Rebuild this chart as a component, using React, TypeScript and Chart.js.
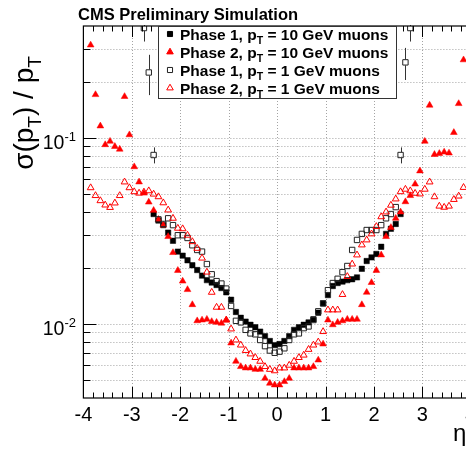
import React, { useEffect, useRef } from "react";
import { Chart, registerables } from "chart.js";
Chart.register(...registerables);

// ---------------- data ----------------
const etaBins = [
  -3.85, -3.75, -3.65, -3.55, -3.45, -3.35, -3.25, -3.15, -3.05, -2.95,
  -2.85, -2.75, -2.65, -2.55, -2.45, -2.35, -2.25, -2.15, -2.05, -1.95,
  -1.85, -1.75, -1.65, -1.55, -1.45, -1.35, -1.25, -1.15, -1.05, -0.95,
  -0.85, -0.75, -0.65, -0.55, -0.45, -0.35, -0.25, -0.15, -0.05,
  0.05, 0.15, 0.25, 0.35, 0.45, 0.55, 0.65, 0.75, 0.85, 0.95,
  1.05, 1.15, 1.25, 1.35, 1.45, 1.55, 1.65, 1.75, 1.85, 1.95,
  2.05, 2.15, 2.25, 2.35, 2.45, 2.55, 2.65, 2.75, 2.85, 2.95,
  3.05, 3.15, 3.25, 3.35, 3.45, 3.55, 3.65, 3.75, 3.85,
];

// Phase 1, pT = 10 GeV (filled black squares)
const phase1Pt10 = [
  null, null, null, null, null, null, null, null, null, null,
  null, null, null, 0.039, 0.036, 0.034, 0.031, 0.028, 0.0245, 0.0233,
  0.022, 0.0207, 0.0195, 0.0182, 0.0172, 0.0167, 0.0162, 0.0156, 0.0148, 0.0135,
  0.0116, 0.0108, 0.0103, 0.0099, 0.0096, 0.0091, 0.0086, 0.0081, 0.0077,
  0.0078, 0.0081, 0.0086, 0.0093, 0.0096, 0.0099, 0.0102, 0.0106, 0.0115, 0.0129,
  0.0143, 0.016, 0.0166, 0.0169, 0.0172, 0.0174, 0.0178, 0.0198, 0.0218, 0.0228,
  0.0238, 0.026, 0.0305, 0.0325, 0.0345, 0.039, null, null, null, null,
  null, null, null, null, null, null, null, null, null,
];

// Phase 2, pT = 10 GeV (filled red triangles)
const phase2Pt10 = [
  0.316, 0.171, 0.116, 0.092, 0.096, 0.09, 0.087, 0.167, 0.104, 0.07,
  0.058, 0.0505, 0.0452, 0.0408, 0.0365, 0.034, 0.0295, 0.0242, 0.0194, 0.017,
  0.0153, 0.0127, 0.0104, 0.0105, 0.0106, 0.0103, 0.0102, 0.0101, 0.0105, 0.0079,
  0.0063, 0.0059, 0.0058, 0.0058, 0.0057, 0.0057, 0.0051, 0.0048, 0.0047,
  0.0047, 0.0049, 0.0051, 0.0058, 0.0058, 0.0058, 0.0058, 0.0059, 0.0064, 0.0078,
  0.0105, 0.0099, 0.0102, 0.0104, 0.0106, 0.0106, 0.0106, 0.0127, 0.0148, 0.0167,
  0.0194, 0.0235, 0.0295, 0.033, 0.037, 0.04, 0.0454, 0.049, 0.0565, 0.0665,
  0.096, 0.15, 0.0815, 0.0825, 0.084, 0.083, 0.107, 0.153, 0.263,
];

// Phase 1, pT = 1 GeV (open black squares)
const phase1Pt1 = [
  null, null, null, null, null, null, null, null, null, null,
  null, 0.39, 0.225, 0.081, 0.0365, 0.0345, 0.037, 0.034, 0.03, 0.03,
  0.029, 0.0265, 0.025, 0.0245, 0.021, 0.0185, 0.017, 0.0165, 0.0155, 0.0125,
  0.0104, 0.0102, 0.0093, 0.0089, 0.0088, 0.0082, 0.0076, 0.0072, 0.007,
  0.0071, 0.0074, 0.0082, 0.0088, 0.0089, 0.0095, 0.0097, 0.0105, 0.0117, 0.0129,
  0.0152, 0.0166, 0.0175, 0.019, 0.0205, 0.025, 0.0283, 0.0305, 0.032, 0.032,
  0.032, 0.034, 0.037, 0.039, 0.0425, 0.081, 0.255, 0.39, null, null,
  null, null, null, null, null, null, null, null, null,
];
const phase1Pt1Err = [
  0, 0, 0, 0, 0, 0, 0, 0, 0, 0,
  0, 0.06, 0.055, 0.008, 0, 0, 0, 0, 0, 0,
  0, 0, 0, 0, 0, 0, 0, 0, 0, 0,
  0, 0, 0, 0, 0, 0, 0, 0, 0,
  0, 0, 0, 0, 0, 0, 0, 0, 0, 0,
  0, 0, 0, 0, 0, 0, 0, 0, 0, 0,
  0, 0, 0, 0, 0, 0.008, 0.05, 0.06, 0, 0,
  0, 0, 0, 0, 0, 0, 0, 0, 0,
];

// Phase 2, pT = 1 GeV (open red triangles)
const phase2Pt1 = [
  0.054, 0.049, 0.046, 0.0436, 0.0423, 0.0447, 0.049, 0.058, 0.054, 0.0514,
  0.0505, 0.0512, 0.052, 0.0499, 0.0483, 0.0448, 0.041, 0.037, 0.0327, 0.0325,
  0.03, 0.0277, 0.0255, 0.0226, 0.019, 0.0148, 0.0123, 0.0123, 0.0105, 0.0094,
  0.0082, 0.0077, 0.0072, 0.0069, 0.0066, 0.0063, 0.0059, 0.0057, 0.0056,
  0.0058, 0.0058, 0.006, 0.0063, 0.0066, 0.0068, 0.0073, 0.0077, 0.008, 0.0091,
  0.0119, 0.0119, 0.0119, 0.0144, 0.018, 0.021, 0.0235, 0.0266, 0.0283, 0.0305,
  0.0334, 0.0377, 0.04, 0.0435, 0.047, 0.0514, 0.053, 0.052, 0.0504, 0.05,
  0.053, 0.058, 0.0483, 0.043, 0.0424, 0.043, 0.0467, 0.0487, 0.0542,
];

const xTickLabels = ["-4", "-3", "-2", "-1", "0", "1", "2", "3", "4"];
const xTickValues = [-4, -3, -2, -1, 0, 1, 2, 3, 4];
const yMajorValues = [0.01, 0.1];
const yMajorExp = ["-2", "-1"];
const yGridValues = [
  0.005, 0.006, 0.007, 0.008, 0.009, 0.01,
  0.02, 0.03, 0.04, 0.05, 0.06, 0.07, 0.08, 0.09, 0.1, 0.2, 0.3,
];
const legendLabels = [
  "Phase 1, p{T} = 10 GeV muons",
  "Phase 2, p{T} = 10 GeV muons",
  "Phase 1, p{T} = 1 GeV muons",
  "Phase 2, p{T} = 1 GeV muons",
];
const headerText = "CMS Preliminary Simulation";
const yTitle = "σ(p{T}) / p{T}";
const xTitle = "η";

// ---------------- layout ----------------
const W = 480;
const H = 449;
const FONT = '"Liberation Sans", Arial, Helvetica, sans-serif';
const RED = "#ff0000";

const series = [
  { label: legendLabels[0], vals: phase1Pt10, style: "rect", filled: true, color: "#000000", order: 4 },
  { label: legendLabels[1], vals: phase2Pt10, style: "triangle", filled: true, color: RED, order: 3 },
  { label: legendLabels[2], vals: phase1Pt1, style: "rect", filled: false, color: "#222222", order: 2 },
  { label: legendLabels[3], vals: phase2Pt1, style: "triangle", filled: false, color: RED, order: 1 },
];

function parseParts(s: string) {
  const parts: { t: string; sub: boolean }[] = [];
  const re = /\{([^}]*)\}/g;
  let last = 0;
  let m: RegExpExecArray | null;
  while ((m = re.exec(s))) {
    if (m.index > last) parts.push({ t: s.slice(last, m.index), sub: false });
    parts.push({ t: m[1], sub: true });
    last = m.index + m[0].length;
  }
  if (last < s.length) parts.push({ t: s.slice(last), sub: false });
  return parts;
}

function drawRich(ctx: CanvasRenderingContext2D, s: string, x: number, y: number, size: number, bold: boolean, align: "left" | "center") {
  const parts = parseParts(s);
  const f = (sub: boolean) => `${bold ? "bold " : ""}${sub ? size * 0.68 : size}px ${FONT}`;
  let total = 0;
  const widths = parts.map((p) => {
    ctx.font = f(p.sub);
    const w = ctx.measureText(p.t).width;
    total += w;
    return w;
  });
  let cx = align === "center" ? x - total / 2 : x;
  ctx.textAlign = "left";
  ctx.textBaseline = "alphabetic";
  parts.forEach((p, i) => {
    ctx.font = f(p.sub);
    ctx.fillText(p.t, cx, p.sub ? y + size * 0.3 : y);
    cx += widths[i];
  });
}

function drawMarker(ctx: CanvasRenderingContext2D, style: string, filled: boolean, color: string, x: number, y: number, r: number) {
  ctx.beginPath();
  if (style === "rect") {
    const s = r * Math.SQRT1_2;
    ctx.rect(x - s, y - s, 2 * s, 2 * s);
  } else {
    const a = (2 * Math.PI) / 3;
    ctx.moveTo(x, y - r);
    ctx.lineTo(x + r * Math.sin(a), y - r * Math.cos(a));
    ctx.lineTo(x + r * Math.sin(2 * a), y - r * Math.cos(2 * a));
    ctx.closePath();
  }
  if (filled) {
    ctx.fillStyle = color;
    ctx.fill();
  }
  ctx.strokeStyle = color;
  ctx.lineWidth = 1;
  ctx.stroke();
}

const decorPlugin = {
  id: "decor",
  beforeDraw(chart: any) {
    const ctx = chart.ctx as CanvasRenderingContext2D;
    ctx.save();
    ctx.fillStyle = "#ffffff";
    ctx.fillRect(0, 0, chart.width, chart.height);
    ctx.restore();
  },
  beforeDatasetsDraw(chart: any) {
    const ctx = chart.ctx as CanvasRenderingContext2D;
    const a = chart.chartArea;
    const x = chart.scales.x;
    const y = chart.scales.y;
    ctx.save();
    ctx.strokeStyle = "#a4a4a4";
    ctx.lineWidth = 1;
    ctx.setLineDash([1, 2]);
    xTickValues.forEach((v) => {
      const px = Math.round(x.getPixelForValue(v)) + 0.5;
      ctx.beginPath();
      ctx.moveTo(px, a.top);
      ctx.lineTo(px, a.bottom);
      ctx.stroke();
    });
    yGridValues.forEach((v) => {
      const py = Math.round(y.getPixelForValue(v)) + 0.5;
      ctx.beginPath();
      ctx.moveTo(a.left, py);
      ctx.lineTo(a.right, py);
      ctx.stroke();
    });
    ctx.setLineDash([]);
    // error bars for Phase 1, 1 GeV
    ctx.strokeStyle = "#333333";
    ctx.lineWidth = 1;
    etaBins.forEach((eta, i) => {
      const v = phase1Pt1[i];
      const e = phase1Pt1Err[i];
      if (v == null || !e) return;
      const px = Math.round(x.getPixelForValue(eta)) + 0.5;
      const py = y.getPixelForValue(v);
      const top = Math.max(a.top, y.getPixelForValue(v + e));
      const bot = Math.min(a.bottom, y.getPixelForValue(Math.max(v - e, 0.0041)));
      ctx.beginPath();
      ctx.moveTo(px, top);
      ctx.lineTo(px, py - 3);
      ctx.moveTo(px, py + 3);
      ctx.lineTo(px, bot);
      ctx.stroke();
    });
    ctx.restore();
  },
  afterDatasetsDraw(chart: any) {
    const ctx = chart.ctx as CanvasRenderingContext2D;
    const a = chart.chartArea;
    const x = chart.scales.x;
    const y = chart.scales.y;
    ctx.save();
    // frame
    ctx.strokeStyle = "#000";
    ctx.lineWidth = 1.2;
    ctx.strokeRect(a.left, a.top, a.right - a.left, a.bottom - a.top);
    // x ticks (bottom and top)
    ctx.lineWidth = 1;
    for (let k = 0; k <= 40; k++) {
      const v = -4 + k * 0.2;
      const major = k % 5 === 0;
      const len = major ? 11 : 5.5;
      const px = Math.round(x.getPixelForValue(v)) + 0.5;
      ctx.beginPath();
      ctx.moveTo(px, a.bottom);
      ctx.lineTo(px, a.bottom - len);
      ctx.moveTo(px, a.top);
      ctx.lineTo(px, a.top + len);
      ctx.stroke();
    }
    // y ticks
    yGridValues.forEach((v) => {
      const major = yMajorValues.includes(v);
      const len = major ? 13 : 7;
      const py = Math.round(y.getPixelForValue(v)) + 0.5;
      ctx.beginPath();
      ctx.moveTo(a.left, py);
      ctx.lineTo(a.left + len, py);
      ctx.stroke();
    });
    // x tick labels
    ctx.fillStyle = "#000";
    ctx.font = `20px ${FONT}`;
    ctx.textAlign = "center";
    ctx.textBaseline = "alphabetic";
    xTickValues.forEach((v, i) => {
      ctx.fillText(xTickLabels[i], x.getPixelForValue(v), 420.5);
    });
    // y tick labels 10^n
    yMajorValues.forEach((v, i) => {
      const py = y.getPixelForValue(v);
      ctx.font = `13px ${FONT}`;
      ctx.textAlign = "right";
      ctx.fillText(yMajorExp[i], 76, py + 3);
      const ew = ctx.measureText(yMajorExp[i]).width;
      ctx.font = `19.5px ${FONT}`;
      ctx.fillText("10", 76 - ew, py + 11);
    });
    // axis titles
    ctx.save();
    ctx.translate(33, 113);
    ctx.rotate(-Math.PI / 2);
    drawRich(ctx, yTitle, 0, 0, 28, false, "center");
    ctx.restore();
    ctx.font = `24px ${FONT}`;
    ctx.textAlign = "left";
    ctx.fillText(xTitle, 453, 441);
    // header
    ctx.font = `bold 16.5px ${FONT}`;
    ctx.textAlign = "left";
    ctx.fillText(headerText, 78, 19.5);
    // legend
    ctx.fillStyle = "#fff";
    ctx.fillRect(158.5, 26.5, 238, 72);
    ctx.strokeStyle = "#333";
    ctx.lineWidth = 1;
    ctx.strokeRect(158.5, 26.5, 238, 72);
    series.forEach((s, i) => {
      const cy = 34 + i * 18;
      drawMarker(ctx, s.style, s.filled, s.color, 170, cy, s.style === "rect" ? 3.6 : 3.8);
      ctx.fillStyle = "#000";
      drawRich(ctx, s.label, 180, cy + 5.5, 15.5, true, "left");
    });
    ctx.restore();
  },
};

export default function App() {
  const ref = useRef<HTMLCanvasElement>(null);
  useEffect(() => {
    if (!ref.current) return;
    const datasets = series.map((s) => ({
      label: s.label,
      data: etaBins
        .map((eta, i) => ({ x: eta, y: s.vals[i] as number | null }))
        .filter((p) => p.y != null),
      pointStyle: s.style,
      pointRadius: s.style === "rect" ? 3.8 : 3.9,
      pointBackgroundColor: s.filled ? s.color : "rgba(0,0,0,0)",
      pointBorderColor: s.color,
      pointBorderWidth: s.filled ? 0.5 : 1,
      showLine: false,
      order: s.order,
    }));
    const chart = new Chart(ref.current, {
      type: "scatter",
      data: { datasets } as any,
      options: {
        animation: false,
        responsive: false,
        devicePixelRatio: 1,
        layout: { padding: { left: 83.4, right: W - 470.8, top: 26, bottom: H - 398 } },
        scales: {
          x: { type: "linear", min: -4, max: 4, display: false },
          y: { type: "logarithmic", min: 0.004, max: 0.4, display: false },
        },
        plugins: {
          legend: { display: false },
          tooltip: { enabled: false },
          title: { display: false },
        },
        events: [],
      } as any,
      plugins: [decorPlugin],
    });
    return () => chart.destroy();
  }, []);
  return (
    <div
      style={{
        position: "absolute",
        left: 0,
        top: 0,
        width: 466,
        height: 449,
        overflow: "hidden",
        background: "#fff",
      }}
    >
      <canvas ref={ref} width={W} height={H} style={{ width: W, height: H, display: "block" }} />
    </div>
  );
}
